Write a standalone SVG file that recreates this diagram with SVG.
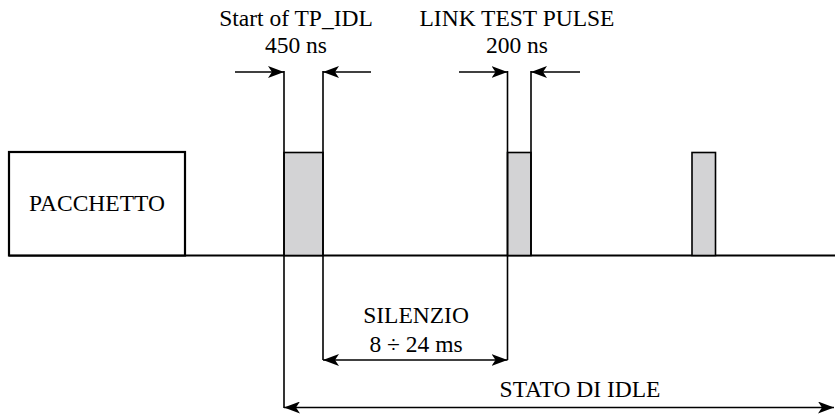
<svg xmlns="http://www.w3.org/2000/svg" width="835" height="414" viewBox="0 0 835 414">
<style>
text{font-size:23.5px;fill:#000;text-anchor:middle}
.ln{stroke:#000;stroke-width:1.6;fill:none}
.pulse{fill:#d3d3d5;stroke:#000;stroke-width:1.6}
</style>
<defs>
<marker id="ah" viewBox="0 0 16 12" refX="16" refY="6" markerWidth="16" markerHeight="12" markerUnits="userSpaceOnUse" orient="auto-start-reverse">
<path d="M0,0 L16,6 L0,12 L4,6 Z" fill="#000"/>
</marker>
</defs>
<rect width="835" height="414" fill="#fff"/>
<g id="baseline"><line class="ln" x1="9" y1="255.5" x2="835" y2="255.5" style="stroke-width:2"/></g>
<g id="pacchetto">
<rect x="9" y="152" width="176" height="103.5" fill="#fff" stroke="#000" stroke-width="2.2"/>
<text x="97" y="211" font-family="Liberation Serif, Times New Roman, serif">PACCHETTO</text>
</g>
<g id="pulse1"><rect class="pulse" x="284" y="152.5" width="39" height="103"/></g>
<g id="pulse2"><rect class="pulse" x="507.5" y="152.5" width="23.5" height="103"/></g>
<g id="pulse3"><rect class="pulse" x="692" y="152.5" width="23.5" height="103"/></g>
<g id="label-tpidl" font-family="Liberation Serif, Times New Roman, serif">
<text x="296" y="26">Start of TP_IDL</text>
<text x="296" y="53">450 ns</text>
</g>
<g id="label-ltp" font-family="Liberation Serif, Times New Roman, serif">
<text x="517" y="26">LINK TEST PULSE</text>
<text x="517" y="53">200 ns</text>
</g>
<g id="label-silenzio" font-family="Liberation Serif, Times New Roman, serif">
<text x="416" y="323">SILENZIO</text>
<text x="416" y="352">8 ÷ 24 ms</text>
</g>
<g id="label-idle" font-family="Liberation Serif, Times New Roman, serif">
<text x="580" y="397">STATO DI IDLE</text>
</g>
<g id="connectors">
<line class="ln" x1="284" y1="71" x2="284" y2="408"/>
<line class="ln" x1="323" y1="71" x2="323" y2="360"/>
<line class="ln" x1="507.5" y1="71" x2="507.5" y2="360"/>
<line class="ln" x1="531" y1="71" x2="531" y2="255"/>
<line class="ln" x1="235" y1="72" x2="284" y2="72" marker-end="url(#ah)"/>
<line class="ln" x1="371" y1="72" x2="323" y2="72" marker-end="url(#ah)"/>
<line class="ln" x1="459" y1="72" x2="507.5" y2="72" marker-end="url(#ah)"/>
<line class="ln" x1="580" y1="72" x2="531" y2="72" marker-end="url(#ah)"/>
<line class="ln" x1="323" y1="360" x2="507.5" y2="360" marker-start="url(#ah)" marker-end="url(#ah)"/>
<line class="ln" x1="284" y1="407.5" x2="834" y2="407.5" marker-start="url(#ah)" marker-end="url(#ah)"/>
</g>
</svg>
